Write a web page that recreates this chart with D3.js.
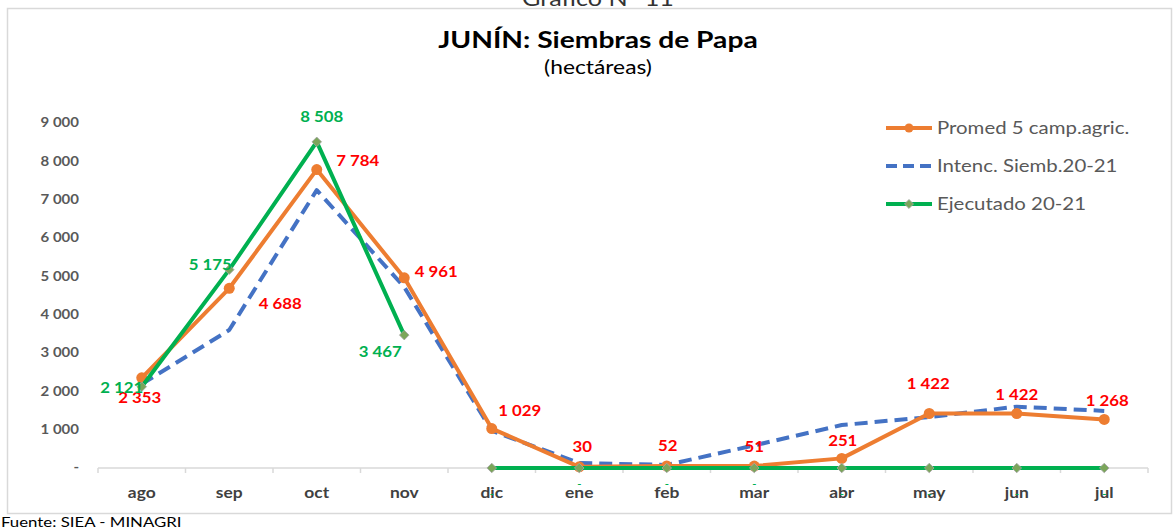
<!DOCTYPE html>
<html>
<head>
<meta charset="utf-8">
<script src="https://cdn.jsdelivr.net/npm/d3@7"></script>
<style>
  body { margin: 0; background: #fff; }
  svg { display: block; font-family: Lato, "Open Sans", sans-serif; }
</style>
</head>
<body>
<svg id="chart" width="1176" height="531"></svg>
<script>
// Datos
const meses = ['ago', 'sep', 'oct', 'nov', 'dic', 'ene', 'feb', 'mar', 'abr', 'may', 'jun', 'jul'];
const promedio = [2353, 4688, 7784, 4961, 1029, 30, 52, 51, 251, 1422, 1422, 1268];
const intencion = [2190, 3600, 7250, 4720, 970, 130, 80, 590, 1120, 1330, 1600, 1490];
const ejecutado = [2121, 5175, 8508, 3467, 0, 0, 0, 0, 0, 0, 0, 0];
const tramosEjecutado = [[0, 3], [4, 11]]; // la línea verde se corta entre nov y dic
const yTicks = [0, 1000, 2000, 3000, 4000, 5000, 6000, 7000, 8000, 9000];

// ubicación de etiquetas (dx, dy respecto al punto)
const posPromedio = [[-2, 20], [51, 15], [41, -9], [32, -6], [28, -18], [3, -20], [1, -20], [0, -19], [1, -18], [-1, -30], [0, -19], [3, -19]];
const posEjecutado = [[-20, 1], [-19, -5], [5, -25], [-24, 17], [0, 25], [0, 15], [0, 15], [0, 15], [0, 25], [0, 25], [0, 25], [0, 25]];

const svg = d3.select('#chart');
const W = 1176, H = 531;
const m = { l: 98, r: 28, t: 123, b: 63 };
const SX = 1.2; // la letra del original viene algo estirada a lo ancho

const x = d3.scaleBand().domain(meses).range([m.l, W - m.r]);
const y = d3.scaleLinear().domain([0, 9000]).range([H - m.b, m.t]);
const cx = d => x(d) + x.bandwidth() / 2;

const fmt = v => v === 0 ? '-' : d3.format(',')(v).replace(/,/g, ' ');

// coloca un texto con el estiramiento horizontal
function ubicar(sel, fx, fy, sx = SX) {
  return sel.attr('transform', (d, i) => {
    const px = typeof fx === 'function' ? fx(d, i) : fx;
    const py = typeof fy === 'function' ? fy(d, i) : fy;
    return `translate(${px},${py}) scale(${sx},1)`;
  });
}

// Borde del gráfico
svg.append('rect').attr('x', 7.5).attr('y', 8.5).attr('width', 1164).attr('height', 505)
  .attr('fill', 'none').attr('stroke', '#d9d9d9').attr('stroke-width', 1.5);

// Título superior cortado
ubicar(svg.append('text'), 598, 6).attr('text-anchor', 'middle')
  .attr('font-size', 21).attr('fill', '#333').text('Gráfico N° 11');

ubicar(svg.append('text'), 598, 48).attr('text-anchor', 'middle')
  .attr('font-size', 23.5).attr('font-weight', 'bold').attr('fill', '#000').text('JUNÍN: Siembras de Papa');
ubicar(svg.append('text'), 598, 74).attr('text-anchor', 'middle')
  .attr('font-size', 19).attr('fill', '#000').text('(hectáreas)');

// Eje Y (solo etiquetas)
ubicar(svg.append('g').selectAll('text').data(yTicks).join('text'), 79, d => y(d))
  .attr('dy', '0.35em').attr('text-anchor', 'end')
  .attr('font-size', 12.5).attr('font-weight', 'bold').attr('fill', '#595959')
  .text(d => fmt(d));

// Eje X
const xAxis = svg.append('g').attr('transform', `translate(0,${y(0)})`);
xAxis.append('line').attr('x1', m.l).attr('x2', W - m.r).attr('stroke', '#d9d9d9').attr('stroke-width', 1.5);
xAxis.selectAll('.tk').data(d3.range(meses.length + 1)).join('line')
  .attr('x1', i => m.l + i * x.bandwidth()).attr('x2', i => m.l + i * x.bandwidth())
  .attr('y1', 0).attr('y2', 5).attr('stroke', '#d9d9d9').attr('stroke-width', 1.5);
ubicar(xAxis.selectAll('text').data(meses).join('text'), d => cx(d), 30)
  .attr('text-anchor', 'middle')
  .attr('font-size', 14.5).attr('font-weight', 'bold').attr('fill', '#404040').text(d => d);

// Líneas
const line = d3.line().x(d => cx(d.mes)).y(d => y(d.v));
const serie = vals => vals.map((v, i) => ({ mes: meses[i], v, i }));

// Intención (azul punteada)
svg.append('path').datum(serie(intencion)).attr('d', line)
  .attr('fill', 'none').attr('stroke', '#4472C4').attr('stroke-width', 4)
  .attr('stroke-dasharray', '13,7').attr('stroke-linejoin', 'round');

// Promedio (naranja)
svg.append('path').datum(serie(promedio)).attr('d', line)
  .attr('fill', 'none').attr('stroke', '#ED7D31').attr('stroke-width', 4).attr('stroke-linejoin', 'round');
svg.append('g').selectAll('circle').data(serie(promedio)).join('circle')
  .attr('cx', d => cx(d.mes)).attr('cy', d => y(d.v)).attr('r', 5.5).attr('fill', '#ED7D31');

// Ejecutado (verde)
const ej = serie(ejecutado);
tramosEjecutado.forEach(([a, b]) => {
  svg.append('path').datum(ej.slice(a, b + 1)).attr('d', line)
    .attr('fill', 'none').attr('stroke', '#00B050').attr('stroke-width', 4);
});
const rombo = d3.symbol(d3.symbolSquare, 46);
svg.append('g').selectAll('path').data(ej).join('path')
  .attr('d', rombo)
  .attr('transform', d => `translate(${cx(d.mes)},${y(d.v)}) rotate(45)`)
  .attr('fill', '#7BA65A').attr('stroke', '#a5a5a5').attr('stroke-width', 0.8);

// Etiquetas de datos
ubicar(svg.append('g').selectAll('text').data(serie(promedio)).join('text'),
  d => cx(d.mes) + posPromedio[d.i][0], d => y(d.v) + posPromedio[d.i][1], 1.12)
  .attr('dy', '0.35em').attr('text-anchor', 'middle')
  .attr('font-size', 15).attr('font-weight', 'bold').attr('fill', '#FF0000').text(d => fmt(d.v));
ubicar(svg.append('g').selectAll('text').data(ej).join('text'),
  d => cx(d.mes) + posEjecutado[d.i][0], d => y(d.v) + posEjecutado[d.i][1], 1.12)
  .attr('dy', '0.35em').attr('text-anchor', 'middle')
  .attr('font-size', d => d.v === 0 ? 10 : 15).attr('font-weight', 'bold').attr('fill', '#00B050').text(d => fmt(d.v));

// Leyenda
const leyenda = [
  { nombre: 'Promed 5 camp.agric.', color: '#ED7D31', tipo: 'circle' },
  { nombre: 'Intenc. Siemb.20-21', color: '#4472C4', tipo: 'dash' },
  { nombre: 'Ejecutado 20-21', color: '#00B050', tipo: 'diamond' }
];
const lg = svg.append('g').selectAll('g').data(leyenda).join('g')
  .attr('transform', (d, i) => `translate(886,${128 + i * 38})`);
lg.append('line').attr('x1', 0).attr('x2', 46)
  .attr('stroke', d => d.color).attr('stroke-width', 4)
  .attr('stroke-dasharray', d => d.tipo === 'dash' ? '11,6' : null);
lg.filter(d => d.tipo === 'circle').append('circle').attr('cx', 23).attr('r', 4.5).attr('fill', '#ED7D31');
lg.filter(d => d.tipo === 'diamond').append('path').attr('d', d3.symbol(d3.symbolSquare, 40))
  .attr('transform', 'translate(23,0) rotate(45)').attr('fill', '#7BA65A').attr('stroke', '#a5a5a5').attr('stroke-width', 0.8);
ubicar(lg.append('text'), 51, 0).attr('dy', '0.35em').attr('font-size', 17).attr('fill', '#595959').text(d => d.nombre);

// Fuente
ubicar(svg.append('text'), 1, 527).attr('font-size', 14).attr('fill', '#000').text('Fuente: SIEA - MINAGRI');
</script>
</body>
</html>
